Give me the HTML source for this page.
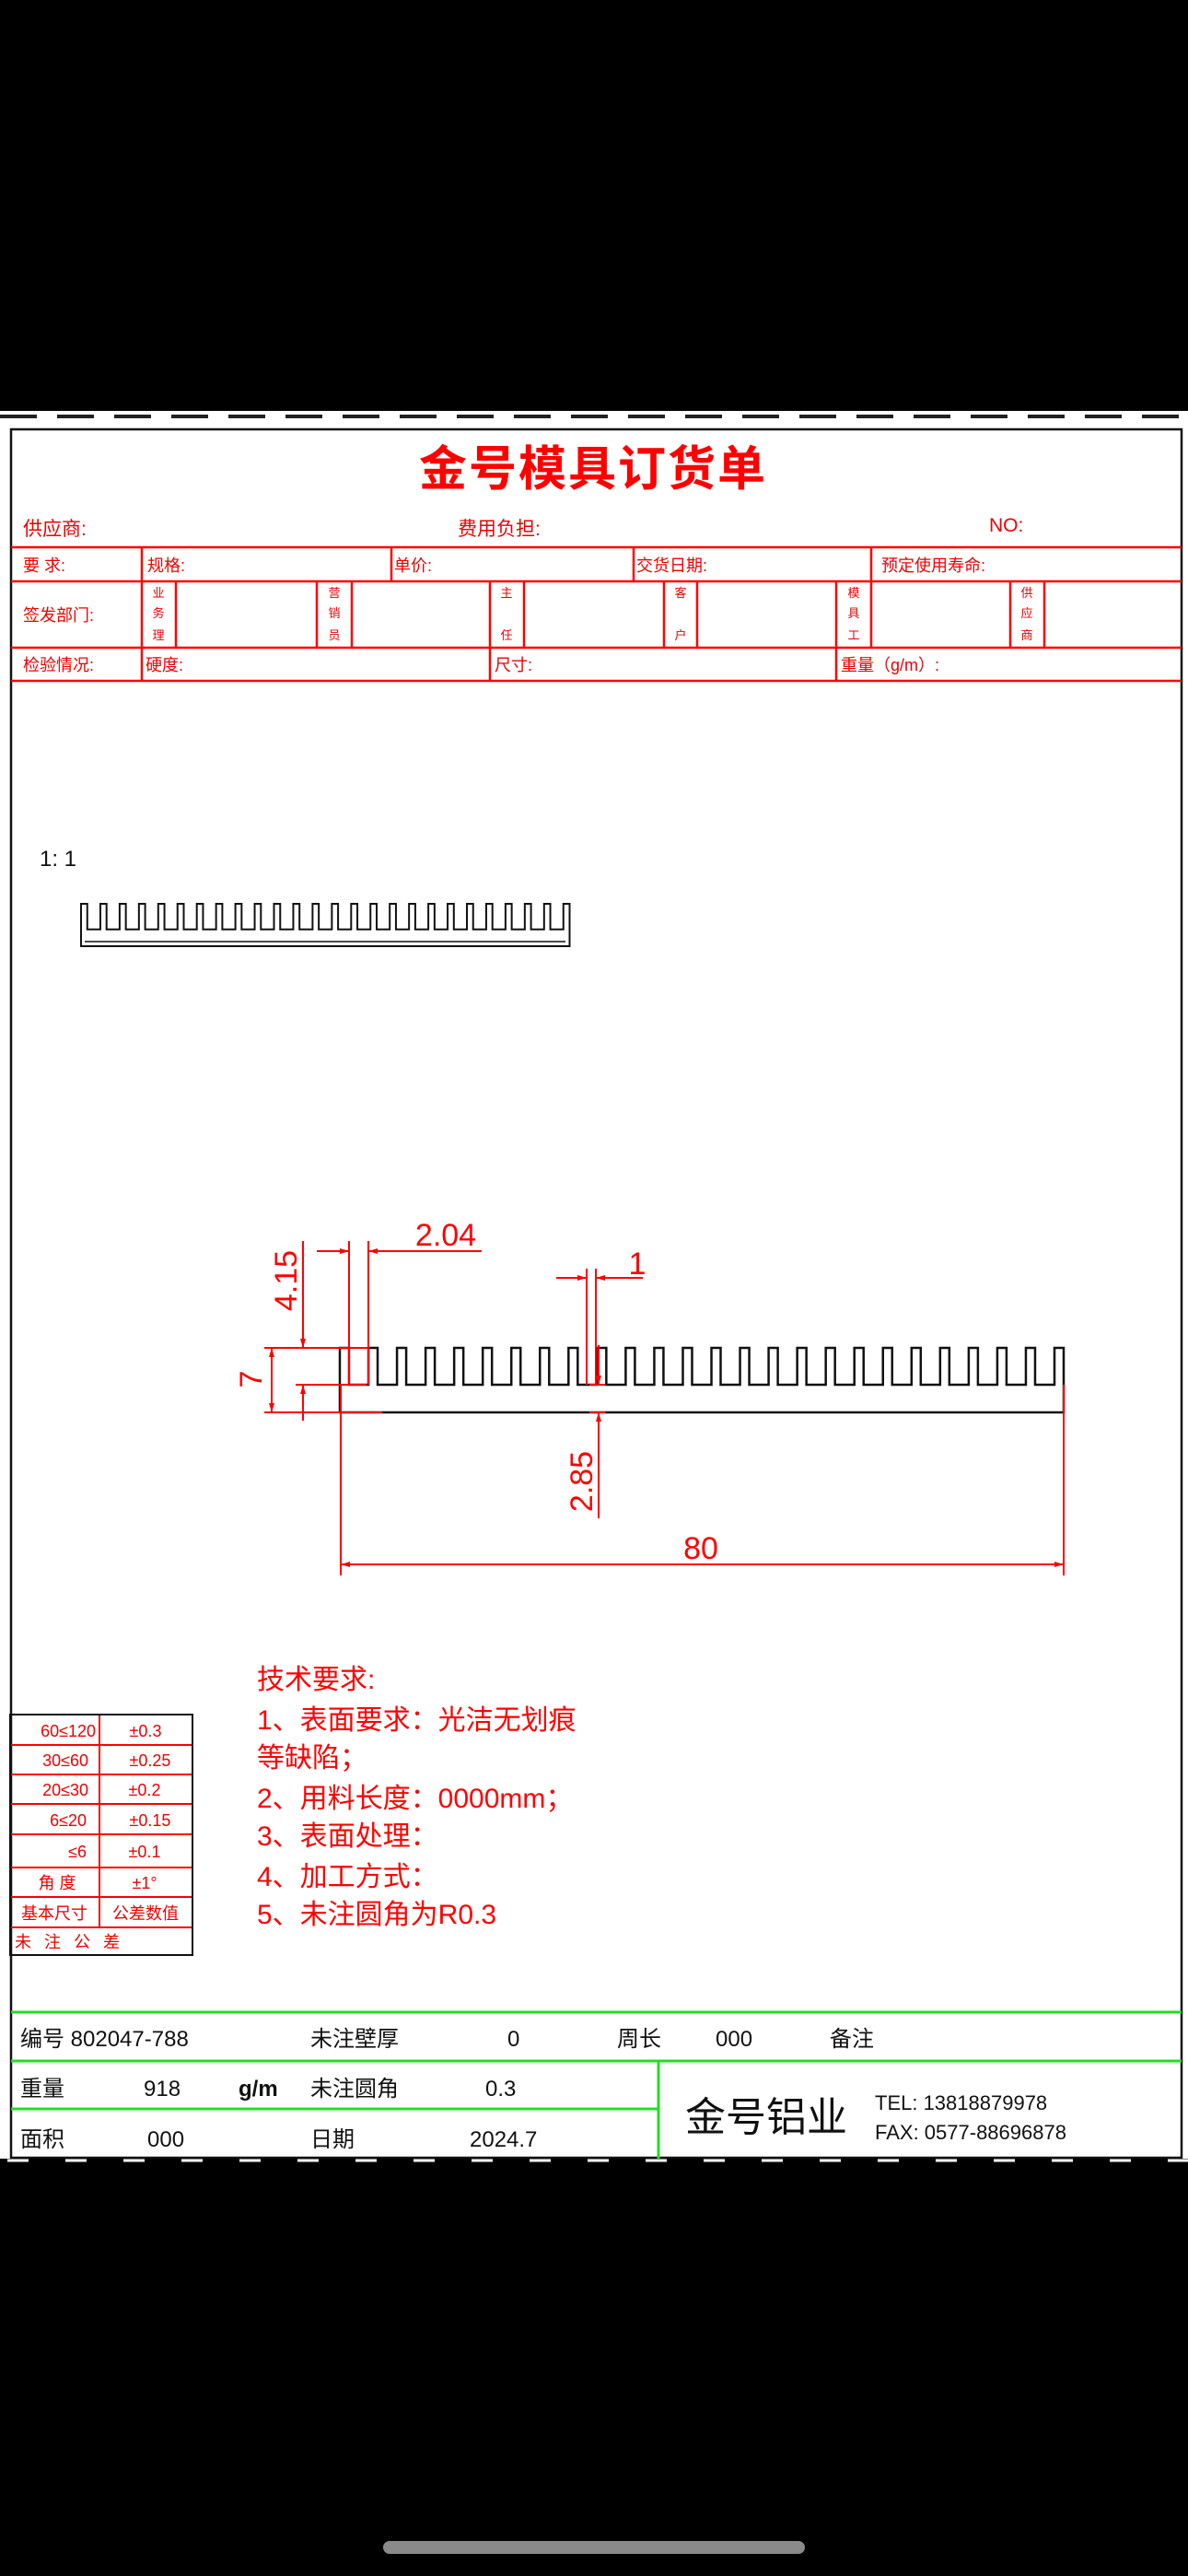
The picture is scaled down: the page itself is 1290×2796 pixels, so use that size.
<!DOCTYPE html>
<html><head><meta charset="utf-8">
<style>
html,body{margin:0;padding:0;background:#000;}
svg{display:block;}
text{font-family:"Liberation Sans","Noto Sans CJK SC",sans-serif;}
</style></head>
<body>
<svg width="1290" height="2796" viewBox="0 0 1290 2796" xmlns="http://www.w3.org/2000/svg">
<defs>
<marker id="ar" viewBox="0 0 10 6" refX="10" refY="3" markerWidth="10" markerHeight="6" markerUnits="userSpaceOnUse" orient="auto-start-reverse">
<path d="M0,0 L10,3 L0,6 Z" fill="#f00"/></marker>
</defs>
<rect x="0" y="0" width="1290" height="2796" fill="#000"/>
<rect x="0" y="446" width="1290" height="1897" fill="#fff"/>
<line x1="0" y1="452" x2="1290" y2="452" stroke="#222" stroke-width="4" stroke-dasharray="40 22"/>
<line x1="8" y1="2345" x2="1290" y2="2345" stroke="#fff" stroke-width="3" stroke-dasharray="23 40"/>
<rect x="12" y="466" width="1271" height="1876" fill="none" stroke="#111" stroke-width="2.5"/>

<text x="644" y="527" font-size="52" font-weight="bold" fill="#f00" text-anchor="middle" letter-spacing="2">金号模具订货单</text>
<g fill="#e00" font-size="21">
<text x="25" y="581">供应商:</text>
<text x="497" y="581">费用负担:</text>
<text x="1074" y="577">NO:</text>
<text x="25" y="620" font-size="18">要 求:</text>
<text x="160" y="620" font-size="18">规格:</text>
<text x="428" y="620" font-size="18">单价:</text>
<text x="691" y="620" font-size="18">交货日期:</text>
<text x="957" y="620" font-size="18">预定使用寿命:</text>
<text x="25" y="674" font-size="18">签发部门:</text>
<text x="25" y="728" font-size="18">检验情况:</text>
<text x="158" y="728" font-size="18">硬度:</text>
<text x="537" y="728" font-size="18">尺寸:</text>
<text x="913" y="728" font-size="18">重量（g/m）:</text>
</g>
<g fill="#e00" font-size="13" text-anchor="middle">
<text x="172" y="648">业</text><text x="172" y="670">务</text><text x="172" y="694">理</text>
<text x="363" y="648">营</text><text x="363" y="670">销</text><text x="363" y="694">员</text>
<text x="550" y="648">主</text><text x="550" y="694">任</text>
<text x="739" y="648">客</text><text x="739" y="694">户</text>
<text x="927" y="648">模</text><text x="927" y="670">具</text><text x="927" y="694">工</text>
<text x="1115" y="648">供</text><text x="1115" y="670">应</text><text x="1115" y="694">商</text>
</g>
<g stroke="#f00" stroke-width="2.5">
<line x1="12" y1="594" x2="1283" y2="594"/>
<line x1="12" y1="631" x2="1283" y2="631"/>
<line x1="12" y1="703" x2="1283" y2="703"/>
<line x1="12" y1="739" x2="1283" y2="739"/>
<line x1="154" y1="594" x2="154" y2="739"/>
<line x1="425" y1="594" x2="425" y2="631"/>
<line x1="688" y1="594" x2="688" y2="631"/>
<line x1="946" y1="594" x2="946" y2="631"/>
<line x1="191" y1="631" x2="191" y2="703"/>
<line x1="344" y1="631" x2="344" y2="703"/>
<line x1="382" y1="631" x2="382" y2="703"/>
<line x1="532" y1="631" x2="532" y2="739"/>
<line x1="569" y1="631" x2="569" y2="703"/>
<line x1="721" y1="631" x2="721" y2="703"/>
<line x1="757" y1="631" x2="757" y2="703"/>
<line x1="908" y1="631" x2="908" y2="739"/>
<line x1="946" y1="631" x2="946" y2="703"/>
<line x1="1097" y1="631" x2="1097" y2="703"/>
<line x1="1134" y1="631" x2="1134" y2="703"/>
</g>

<text x="43" y="940" font-size="24" fill="#111">1: 1</text>
<path fill="none" stroke="#111" stroke-width="2" d="M88,1027 V981 h6.75 v27.7 h14.2 v-27.7 h6.75 v27.7 h14.2 v-27.7 h6.75 v27.7 h14.2 v-27.7 h6.75 v27.7 h14.2 v-27.7 h6.75 v27.7 h14.2 v-27.7 h6.75 v27.7 h14.2 v-27.7 h6.75 v27.7 h14.2 v-27.7 h6.75 v27.7 h14.2 v-27.7 h6.75 v27.7 h14.2 v-27.7 h6.75 v27.7 h14.2 v-27.7 h6.75 v27.7 h14.2 v-27.7 h6.75 v27.7 h14.2 v-27.7 h6.75 v27.7 h14.2 v-27.7 h6.75 v27.7 h14.2 v-27.7 h6.75 v27.7 h14.2 v-27.7 h6.75 v27.7 h14.2 v-27.7 h6.75 v27.7 h14.2 v-27.7 h6.75 v27.7 h14.2 v-27.7 h6.75 v27.7 h14.2 v-27.7 h6.75 v27.7 h14.2 v-27.7 h6.75 v27.7 h14.2 v-27.7 h6.75 v27.7 h14.2 v-27.7 h6.75 v27.7 h14.2 v-27.7 h6.75 v27.7 h14.2 v-27.7 h6.75 v27.7 h14.2 v-27.7 h6.75 V1027 Z"/>
<line x1="92" y1="1022" x2="614" y2="1022" stroke="#111" stroke-width="1.5"/>

<path fill="none" stroke="#111" stroke-width="2.5" d="M369,1533 V1463 h10 v40 h21.04 v-40 h10 v40 h21.04 v-40 h10 v40 h21.04 v-40 h10 v40 h21.04 v-40 h10 v40 h21.04 v-40 h10 v40 h21.04 v-40 h10 v40 h21.04 v-40 h10 v40 h21.04 v-40 h10 v40 h21.04 v-40 h10 v40 h21.04 v-40 h10 v40 h21.04 v-40 h10 v40 h21.04 v-40 h10 v40 h21.04 v-40 h10 v40 h21.04 v-40 h10 v40 h21.04 v-40 h10 v40 h21.04 v-40 h10 v40 h21.04 v-40 h10 v40 h21.04 v-40 h10 v40 h21.04 v-40 h10 v40 h21.04 v-40 h10 v40 h21.04 v-40 h10 v40 h21.04 v-40 h10 v40 h21.04 v-40 h10 v40 h21.04 v-40 h10 v40 h21.04 v-40 h10 V1533 Z"/>

<g stroke="#f00" stroke-width="2" fill="none">
<line x1="287" y1="1463" x2="400" y2="1463"/>
<line x1="321" y1="1503" x2="398" y2="1503"/>
<line x1="287" y1="1533" x2="415" y2="1533"/>
<line x1="640" y1="1503" x2="657" y2="1503"/>
<line x1="640" y1="1533" x2="657" y2="1533"/>
<line x1="329" y1="1347" x2="329" y2="1463" marker-end="url(#ar)"/>
<line x1="329" y1="1542" x2="329" y2="1503" marker-end="url(#ar)"/>
<line x1="295" y1="1463" x2="295" y2="1533" marker-start="url(#ar)" marker-end="url(#ar)"/>
<line x1="379" y1="1347" x2="379" y2="1503"/>
<line x1="400" y1="1347" x2="400" y2="1503"/>
<line x1="344" y1="1358" x2="379" y2="1358" marker-end="url(#ar)"/>
<line x1="523" y1="1358" x2="400" y2="1358" marker-end="url(#ar)"/>
<line x1="637" y1="1377" x2="637" y2="1503"/>
<line x1="647" y1="1377" x2="647" y2="1503"/>
<line x1="604" y1="1387" x2="637" y2="1387" marker-end="url(#ar)"/>
<line x1="698" y1="1387" x2="647" y2="1387" marker-end="url(#ar)"/>
<line x1="650" y1="1460" x2="650" y2="1503" marker-end="url(#ar)"/>
<line x1="650" y1="1648" x2="650" y2="1533" marker-end="url(#ar)"/>
<line x1="370" y1="1503" x2="370" y2="1710"/>
<line x1="1155" y1="1503" x2="1155" y2="1710"/>
<line x1="370" y1="1698" x2="1155" y2="1698" marker-start="url(#ar)" marker-end="url(#ar)"/>
</g>
<g fill="#f00" font-size="34">
<text x="484" y="1352" text-anchor="middle">2.04</text>
<text x="692" y="1383" text-anchor="middle">1</text>
<text x="761" y="1692" text-anchor="middle">80</text>
<text transform="translate(322,1390) rotate(-90)" text-anchor="middle">4.15</text>
<text transform="translate(284,1497) rotate(-90)" text-anchor="middle">7</text>
<text transform="translate(643,1608) rotate(-90)" text-anchor="middle">2.85</text>
</g>

<g fill="#f00" font-size="30">
<text x="279" y="1833">技术要求:</text>
<text x="279" y="1877">1、表面要求：光洁无划痕</text>
<text x="279" y="1918">等缺陷；</text>
<text x="279" y="1962">2、用料长度：0000mm；</text>
<text x="279" y="2003">3、表面处理：</text>
<text x="279" y="2047">4、加工方式：</text>
<text x="279" y="2088">5、未注圆角为R0.3</text>
</g>

<g stroke="#f00" stroke-width="2">
<line x1="11" y1="1894" x2="209" y2="1894"/>
<line x1="11" y1="1926" x2="209" y2="1926"/>
<line x1="11" y1="1958" x2="209" y2="1958"/>
<line x1="11" y1="1991" x2="209" y2="1991"/>
<line x1="11" y1="2027" x2="209" y2="2027"/>
<line x1="11" y1="2059" x2="209" y2="2059"/>
<line x1="11" y1="2092" x2="209" y2="2092"/>
<line x1="108" y1="1861" x2="108" y2="2092"/>
</g>
<rect x="11" y="1861" width="198" height="261" fill="none" stroke="#111" stroke-width="2"/>
<g fill="#e00" font-size="18">
<text x="104" y="1885" text-anchor="end">60≤120</text><text x="158" y="1885" text-anchor="middle">±0.3</text>
<text x="96" y="1917" text-anchor="end">30≤60</text><text x="163" y="1917" text-anchor="middle">±0.25</text>
<text x="96" y="1949" text-anchor="end">20≤30</text><text x="157" y="1949" text-anchor="middle">±0.2</text>
<text x="94" y="1982" text-anchor="end">6≤20</text><text x="163" y="1982" text-anchor="middle">±0.15</text>
<text x="94" y="2016" text-anchor="end">≤6</text><text x="157" y="2016" text-anchor="middle">±0.1</text>
<text x="62" y="2050" text-anchor="middle">角 度</text><text x="157" y="2050" text-anchor="middle">±1°</text>
<text x="59" y="2083" text-anchor="middle">基本尺寸</text><text x="158" y="2083" text-anchor="middle">公差数值</text>
<text x="16" y="2114" letter-spacing="14">未注公差</text>
</g>

<g stroke="#2d2" stroke-width="3">
<line x1="12" y1="2184" x2="1283" y2="2184"/>
<line x1="12" y1="2237" x2="1283" y2="2237"/>
<line x1="12" y1="2289" x2="715" y2="2289"/>
<line x1="715" y1="2237" x2="715" y2="2343"/>
</g>
<g fill="#111" font-size="24">
<text x="22" y="2221">编号 802047-788</text>
<text x="337" y="2221">未注壁厚</text>
<text x="551" y="2221">0</text>
<text x="670" y="2221">周长</text>
<text x="777" y="2221">000</text>
<text x="901" y="2221">备注</text>
<text x="22" y="2275">重量</text>
<text x="156" y="2275">918</text>
<text x="259" y="2275" font-weight="bold">g/m</text>
<text x="337" y="2275">未注圆角</text>
<text x="527" y="2275">0.3</text>
<text x="22" y="2330">面积</text>
<text x="160" y="2330">000</text>
<text x="337" y="2330">日期</text>
<text x="510" y="2330">2024.7</text>
<text x="744" y="2313" font-size="44">金号铝业</text>
<text x="950" y="2290" font-size="22">TEL:  13818879978</text>
<text x="950" y="2322" font-size="22">FAX: 0577-88696878</text>
</g>

<rect x="416" y="2758" width="458" height="14" rx="7" fill="#8a8a8a"/>
</svg>
</body></html>
